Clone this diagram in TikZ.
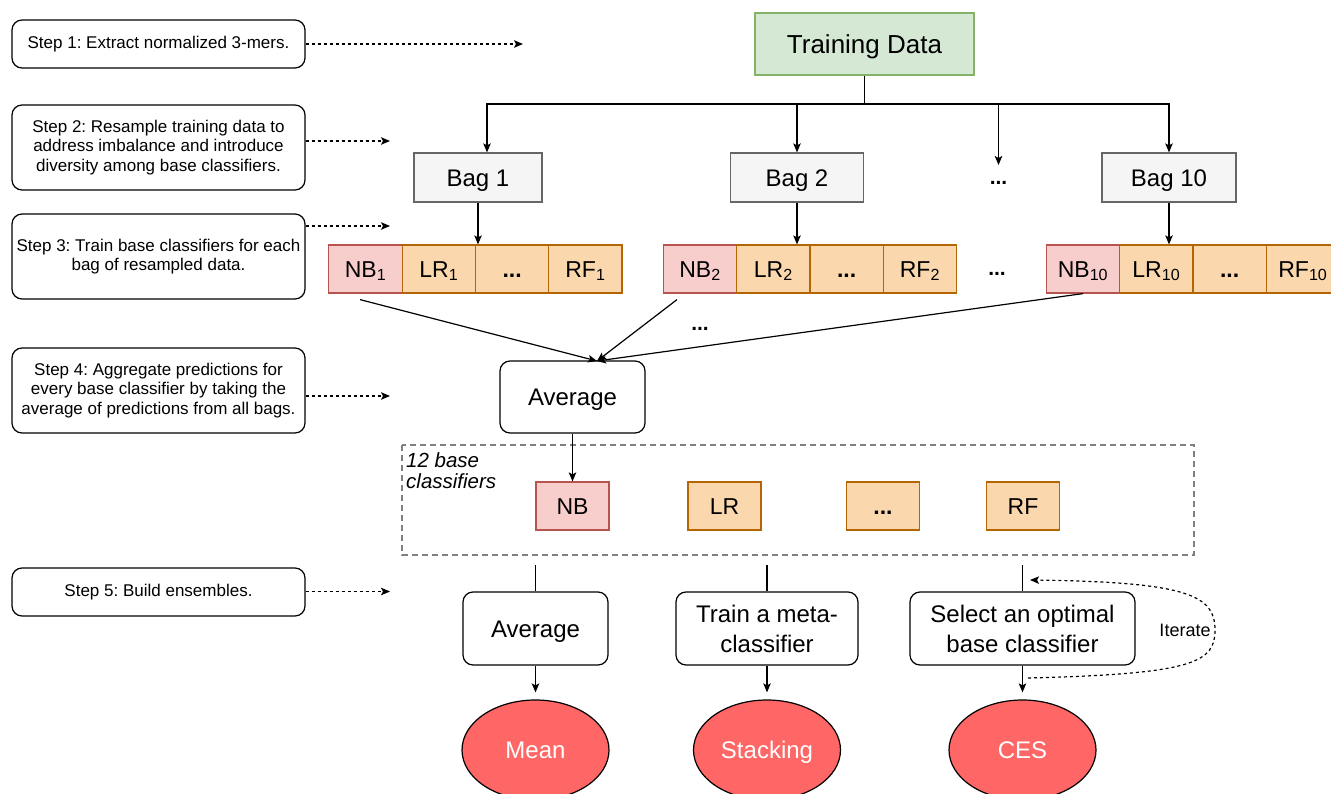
\documentclass[tikz,border=0pt]{standalone}
\usepackage{fontspec}
\setmainfont{Liberation Sans}
\usetikzlibrary{arrows.meta,shapes.geometric,calc}
\frenchspacing
\definecolor{tdfill}{HTML}{D5E8D4}
\definecolor{tdline}{HTML}{82B366}
\definecolor{bagfill}{HTML}{F5F5F5}
\definecolor{bagline}{HTML}{666666}
\definecolor{nbfill}{HTML}{F8CECC}
\definecolor{nbline}{HTML}{B85450}
\definecolor{orfill}{HTML}{FAD7AC}
\definecolor{orline}{HTML}{B46504}
\definecolor{ellfill}{HTML}{FF6666}
\definecolor{grpline}{HTML}{808080}
\begin{document}
\begin{tikzpicture}[x=1pt,y=-1pt,
  stepbox/.style={draw, rounded corners=10pt, line width=1.2pt, minimum width=293pt, inner sep=0pt, align=center, font=\fontsize{17}{19.5}\selectfont},
  arr/.style={-{Stealth[length=9pt,width=7.5pt,inset=2pt]}, line width=1.2pt},
  darr/.style={arr, dash pattern=on 3pt off 3pt},
  plainline/.style={line width=1.2pt},
  bagbox/.style={draw=bagline, fill=bagfill, line width=1.2pt, minimum height=49pt, inner sep=0pt, text height=21.6pt, text depth=4.4pt, font=\fontsize{24}{28}\selectfont},
  cell/.style={line width=1.2pt, minimum width=73.3pt, minimum height=48pt, inner sep=0pt, text height=20.7pt, text depth=4.2pt, font=\fontsize{23}{27}\selectfont},
  nbcell/.style={cell, fill=nbfill, draw=nbline},
  orcell/.style={cell, fill=orfill, draw=orline},
  procbox/.style={draw, rounded corners=10pt, line width=1.2pt, minimum height=73pt, inner sep=0pt, align=center, font=\fontsize{24}{30}\selectfont},
  singlebox/.style={draw, rounded corners=10pt, line width=1.2pt, minimum height=72pt, inner sep=0pt, text height=21.6pt, text depth=4.4pt, font=\fontsize{24}{28}\selectfont},
  result/.style={ellipse, draw, fill=ellfill, line width=1.2pt, minimum width=147pt, minimum height=100pt, inner sep=0pt, text height=21.6pt, text depth=4.4pt, text=white, font=\fontsize{24}{28}\selectfont},
  dotlabel/.style={inner sep=0pt, font=\fontsize{21}{24}\selectfont\bfseries}
]
\clip (0,0) rectangle (1331,794);
\fill[white] (0,0) rectangle (1331,794);

% ---- step boxes ----
\node[stepbox, minimum height=48pt] (s1) at (158.5,44) {Step 1: Extract normalized 3-mers.};
\node[stepbox, minimum height=85pt] (s2) at (158.5,147.5) {Step 2: Resample training data to\\address imbalance and introduce\\diversity among base classifiers.};
\node[stepbox, minimum height=85pt] (s3) at (158.5,256.5) {Step 3: Train base classifiers for each\\bag of resampled data.};
\node[stepbox, minimum height=85pt] (s4) at (158.5,390.5) {Step 4: Aggregate predictions for\\every base classifier by taking the\\average of predictions from all bags.};
\node[stepbox, minimum height=48pt] (s5) at (158.5,592) {Step 5: Build ensembles.};

\coordinate (e1) at (523,44);
\coordinate (e2) at (390,141);
\coordinate (e3) at (390,226);
\coordinate (e4) at (390,396);
\coordinate (e5) at (390,591.5);
\draw[darr] (s1.east |- e1) -- (e1);
\draw[darr] (s2.east |- e2) -- (e2);
\draw[darr] (s3.east |- e3) -- (e3);
\draw[darr] (s4.east |- e4) -- (e4);
\draw[darr] (s5.east |- e5) -- (e5);

% ---- training data and bags ----
\node[draw=tdline, fill=tdfill, line width=1.2pt, minimum width=219pt, minimum height=62pt, inner sep=0pt, text height=23.4pt, text depth=4.8pt, font=\fontsize{26}{30}\selectfont] (td) at (864.5,44) {Training Data};
\node[bagbox, minimum width=128pt] (bag1) at (478,177.5) {Bag 1};
\node[bagbox, minimum width=133pt] (bag2) at (797,177.5) {Bag 2};
\node[bagbox, minimum width=134pt] (bag10) at (1169,177.5) {Bag 10};
\node[dotlabel] (dotsA) at (998.5,183) {...};

\coordinate (hub) at (864.5,104);
\coordinate (dotsAtop) at (998.5,165);
\draw[plainline] (td.south) -- (hub);
\draw[arr] (hub) -| ([xshift=9pt]bag1.north);
\draw[arr] (hub) -| (bag2.north);
\draw[arr] (hub) -| (dotsAtop);
\draw[arr] (hub) -| (bag10.north);

% ---- classifier rows ----
\node[nbcell] (nb1) at (365.5,269) {NB\textsubscript{1}};
\node[orcell] (lr1) at (438.8,269) {LR\textsubscript{1}};
\node[orcell] (d1) at (512.1,269) {\textbf{...}};
\node[orcell] (rf1) at (585.4,269) {RF\textsubscript{1}};

\node[nbcell] (nb2) at (700,269) {NB\textsubscript{2}};
\node[orcell] (lr2) at (773.3,269) {LR\textsubscript{2}};
\node[orcell] (d2) at (846.6,269) {\textbf{...}};
\node[orcell] (rf2) at (919.9,269) {RF\textsubscript{2}};

\node[nbcell] (nb10) at (1083,269) {NB\textsubscript{10}};
\node[orcell] (lr10) at (1156.3,269) {LR\textsubscript{10}};
\node[orcell] (d10) at (1229.6,269) {\textbf{...}};
\node[orcell] (rf10) at (1302.9,269) {RF\textsubscript{10}};

\node[dotlabel] (dotsB) at (997,274) {...};

\draw[arr] (bag1.south) -- (bag1.south |- lr1.north);
\draw[arr] (bag2.south) -- (bag2.south |- lr2.north);
\draw[arr] (bag10.south) -- (bag10.south |- lr10.north);

% ---- average ----
\node[singlebox, minimum width=145pt] (avg1) at (572.5,397) {Average};
\coordinate (avgin) at (597,361);
\draw[arr] ([shift={(-5.5,6)}]nb1.south) -- (avgin);
\draw[arr] ([shift={(-23,6)}]nb2.south) -- (avgin);
\draw[arr] (nb10.south) -- (avgin);
\node[dotlabel] (dotsC) at (700,329) {...};

% ---- 12 base classifiers ----
\draw[grpline, line width=2pt, dash pattern=on 6pt off 4pt] (401.5,445) rectangle (1193.5,555);
\node[anchor=north west, inner sep=0pt, align=left, font=\fontsize{20.5}{21.5}\selectfont\itshape] (grplabel) at (406,452) {12 base\\classifiers};
\node[nbcell, minimum width=73pt] (nb) at (572.5,506) {NB};
\node[orcell, minimum width=73pt] (lr) at (724.5,506) {LR};
\node[orcell, minimum width=73pt] (dd) at (883,506) {\textbf{...}};
\node[orcell, minimum width=73pt] (rf) at (1023,506) {RF};
\draw[arr] (avg1.south) -- (nb.north);

% ---- ensembles ----
\node[singlebox, minimum width=145pt, minimum height=73pt] (avg2) at (535.5,628.5) {Average};
\node[procbox, minimum width=182pt] (meta) at (767,628.5) {Train a meta-\\classifier};
\node[procbox, minimum width=225pt] (sel) at (1022.5,628.5) {Select an optimal\\base classifier};

\coordinate (t1) at (535.5,565);
\coordinate (t2) at (767,565);
\coordinate (t3) at (1022.5,565);
\draw[plainline] (t1) -- (avg2.north);
\draw[plainline] (t2) -- (meta.north);
\draw[plainline] (t3) -- (sel.north);

\node[result] (mean) at (535.5,750) {Mean};
\node[result] (stack) at (767,750) {Stacking};
\node[result] (ces) at (1022.5,750) {CES};

\draw[arr, shorten >=7pt] (avg2.south) -- (mean.north);
\draw[arr, shorten >=7pt] (meta.south) -- (stack.north);
\draw[arr, shorten >=7pt] (sel.south) -- (ces.north);

% ---- iterate loop ----
\coordinate (itS) at (1028,678);
\coordinate (itM) at (1215,630);
\coordinate (itE) at (1030,580);
\draw[darr] (itS) .. controls (1195,674) and (1215,662) .. (itM) .. controls (1215,596) and (1190,582) .. (itE);
\node[inner sep=0pt, font=\fontsize{18}{21}\selectfont] (itlabel) at (1185,630) {Iterate};
\end{tikzpicture}
\end{document}
